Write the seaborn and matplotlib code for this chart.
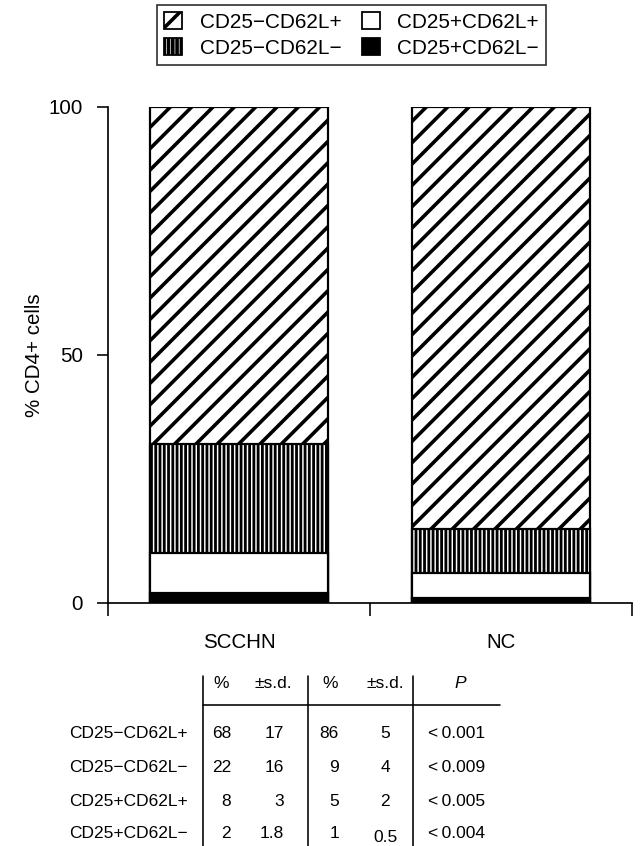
import numpy as np
import pandas as pd
import matplotlib.pyplot as plt
from matplotlib.patches import Patch
from matplotlib.lines import Line2D
import seaborn as sns

# bar data, bottom to top of each stack
groups = ["SCCHN", "NC"]
subsets = ["CD25+CD62L−", "CD25+CD62L+", "CD25−CD62L−", "CD25−CD62L+"]
scchn_pct = [2, 8, 22, 68]
nc_pct = [1, 5, 9, 85]
fills = ["black", "white", "white", "white"]
hatches = ["", "", "|||||", "//"]

# table under the chart
row_names = ["CD25−CD62L+", "CD25−CD62L−", "CD25+CD62L+", "CD25+CD62L−"]
scchn_mean = ["68", "22", "8", "2"]
scchn_sd = ["17", "16", "3", "1.8"]
nc_mean = ["86", "9", "5", "1"]
nc_sd = ["5", "4", "2", "0.5"]
p_vals = ["<\u20090.001", "<\u20090.009", "<\u20090.005", "<\u20090.004"]

W, H = 643, 846
DPI = 128  # larger dpi -> wider hatch spacing


def pt(px):
    # pixel size -> points at this dpi
    return px * 72 / DPI


sns.set_style("ticks")
plt.rcParams["font.family"] = ["Liberation Sans", "DejaVu Sans"]
plt.rcParams["hatch.linewidth"] = pt(3.6)
plt.rcParams["axes.edgecolor"] = "black"
plt.rcParams["text.color"] = "black"
plt.rcParams["axes.labelcolor"] = "black"
plt.rcParams["xtick.color"] = "black"
plt.rcParams["ytick.color"] = "black"

fig = plt.figure(figsize=(W / DPI, H / DPI), dpi=DPI)


def fx(px):
    return px / W


def fy(py):
    return 1 - py / H


ax = fig.add_axes([fx(108), fy(603), fx(632) - fx(108), fy(107) - fy(603)])

df = pd.DataFrame({
    "group": np.repeat(groups, len(subsets)),
    "subset": subsets * 2,
    "pct": scchn_pct + nc_pct,
})
df["top"] = df.groupby("group")["pct"].cumsum()

# overlay cumulative bars, tallest first
for i in reversed(range(len(subsets))):
    sub = df[df["subset"] == subsets[i]]
    n0 = len(ax.patches)
    sns.barplot(data=sub, x="group", y="top", order=groups, color=fills[i],
                hatch=hatches[i], edgecolor="black", linewidth=pt(2.2),
                width=0.68, saturation=1, errorbar=None, ax=ax)
    if hatches[i].startswith("|"):
        for p in ax.patches[n0:]:
            if hasattr(p, "set_hatch_linewidth"):
                p.set_hatch_linewidth(pt(2.8))

ax.set_xlim(-0.5, 1.5)
ax.set_ylim(0, 100)
ax.set_yticks([0, 50, 100])
ax.set_xticks([-0.5, 0.5, 1.5], labels=["", "", ""])
ax.set_xticks([0, 1], labels=groups, minor=True)
ax.tick_params(axis="x", which="major", direction="out", length=pt(12.5), width=pt(1.6))
ax.tick_params(axis="x", which="minor", length=0, pad=pt(30), labelsize=pt(20.5))
ax.tick_params(axis="y", direction="out", length=pt(11), width=pt(1.6), pad=pt(14),
               labelsize=pt(20.5))
ax.set_xlabel("")
ax.set_ylabel("% CD4+ cells", fontsize=pt(20.5), labelpad=pt(5))
for s in ["top", "right"]:
    ax.spines[s].set_visible(False)
for s in ["left", "bottom"]:
    ax.spines[s].set_linewidth(pt(1.7))

# legend
handles = [Patch(facecolor=fills[i], edgecolor="black", hatch=hatches[i], label=subsets[i])
           for i in [3, 2, 1, 0]]
leg = fig.legend(handles=handles, ncol=2, loc="upper left",
                 bbox_to_anchor=(fx(157), fy(5)), borderaxespad=0,
                 fontsize=pt(20.8), frameon=True, fancybox=False, edgecolor="black",
                 handlelength=0.85, handleheight=0.85, handletextpad=0.85,
                 columnspacing=1.0, labelspacing=0.3, borderpad=0.35)
leg.get_frame().set_linewidth(pt(1.7))

# table
tfs = pt(17.4)
for x in [203, 308, 413]:
    fig.add_artist(Line2D([fx(x), fx(x)], [fy(676), fy(846)], color="black", lw=pt(1.6)))
fig.add_artist(Line2D([fx(203), fx(500)], [fy(705), fy(705)], color="black", lw=pt(1.6)))

hy = fy(684)
fig.text(fx(221), hy, "%", ha="center", va="center", fontsize=tfs)
fig.text(fx(273), hy, "±s.d.", ha="center", va="center", fontsize=tfs)
fig.text(fx(330), hy, "%", ha="center", va="center", fontsize=tfs)
fig.text(fx(385), hy, "±s.d.", ha="center", va="center", fontsize=tfs)
fig.text(fx(460), hy, "P", ha="center", va="center", fontsize=tfs, style="italic")

row_y = [734, 768, 801, 833]
for j, name in enumerate(row_names):
    y = fy(row_y[j])
    fig.text(fx(188), y, name, ha="right", va="center", fontsize=tfs)
    fig.text(fx(231), y, scchn_mean[j], ha="right", va="center", fontsize=tfs)
    fig.text(fx(284), y, scchn_sd[j], ha="right", va="center", fontsize=tfs)
    fig.text(fx(339), y, nc_mean[j], ha="right", va="center", fontsize=tfs)
    sd_y = fy(row_y[j] + 4) if nc_sd[j] == "0.5" else y
    fig.text(fx(385), sd_y, nc_sd[j], ha="center", va="center", fontsize=tfs)
    fig.text(fx(428), y, p_vals[j], ha="left", va="center", fontsize=tfs)

fig.savefig("out.png", dpi=DPI)
